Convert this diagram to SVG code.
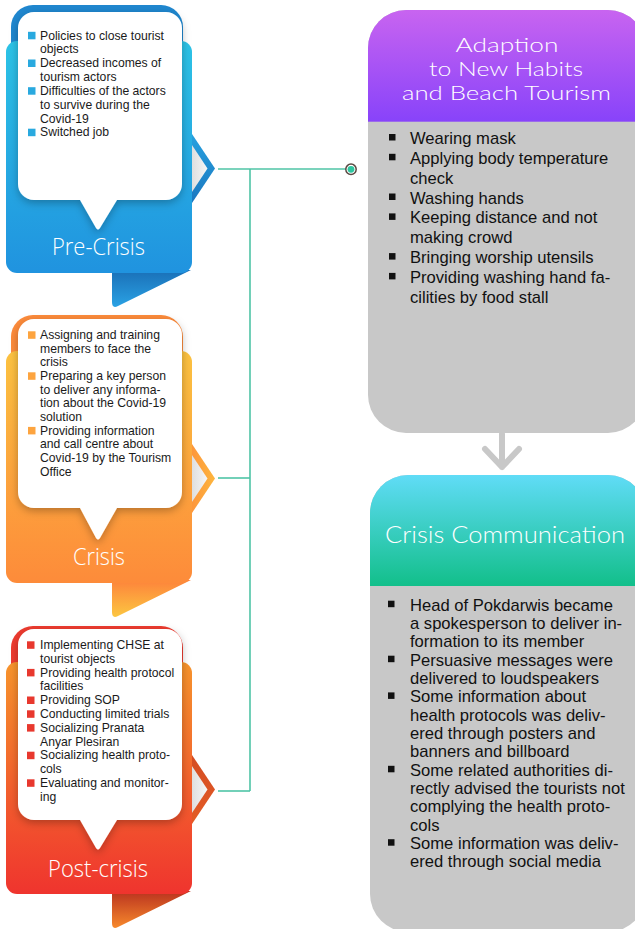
<svg xmlns="http://www.w3.org/2000/svg" width="635" height="929" viewBox="0 0 635 929">
  <defs>
    <style>
      .item { font-family: "Liberation Sans", Arial, sans-serif; font-size: 12.2px; fill: #1a1a1a; }
      .pt { font-family: "Liberation Sans", Arial, sans-serif; font-size: 16.6px; fill: #111; }
      .label { font-family: "Open Sans", "DejaVu Sans", sans-serif; font-weight: 300; font-size: 23px; fill: #ffffff; text-anchor: middle; }
      .title { font-family: Lato, "Open Sans", sans-serif; font-weight: 300; font-size: 19.8px; fill: #ffffff; text-anchor: middle; }
      .title-big { font-family: Lato, "Open Sans", sans-serif; font-weight: 300; font-size: 23px; fill: #ffffff; text-anchor: middle; }
      .link { fill: none; stroke: #4fc4a6; stroke-width: 1.6; }
      .gray-arrow { fill: none; stroke: #c8c8c8; stroke-width: 6; stroke-linecap: round; stroke-linejoin: round; }
    </style>
    <filter id="cardShadow" x="-20%" y="-20%" width="140%" height="150%">
      <feDropShadow dx="0" dy="3" stdDeviation="4" flood-color="#000" flood-opacity="0.28"/>
    </filter>
    <linearGradient id="chevInner" x1="0" y1="0" x2="1" y2="0">
      <stop offset="0" stop-color="#d6d6d6"/>
      <stop offset="1" stop-color="#f6f6f6"/>
    </linearGradient>
    <!-- blue card -->
    <linearGradient id="bBody" x1="0" y1="0" x2="0" y2="1">
      <stop offset="0" stop-color="#2cc3e6"/>
      <stop offset="1" stop-color="#2093df"/>
    </linearGradient>
    <linearGradient id="bTail" x1="0" y1="0" x2="0" y2="1">
      <stop offset="0" stop-color="#1a6fb7"/>
      <stop offset="1" stop-color="#2aa2e4"/>
    </linearGradient>
    <linearGradient id="bChev" x1="0" y1="0" x2="0" y2="1">
      <stop offset="0" stop-color="#28a6e3"/>
      <stop offset="1" stop-color="#1a72bb"/>
    </linearGradient>
    <!-- orange card -->
    <linearGradient id="oBody" x1="0" y1="0" x2="0" y2="1">
      <stop offset="0" stop-color="#fcc240"/>
      <stop offset="1" stop-color="#fd8b3a"/>
    </linearGradient>
    <linearGradient id="oTail" x1="0" y1="0" x2="0" y2="1">
      <stop offset="0" stop-color="#fd833b"/>
      <stop offset="1" stop-color="#fcc641"/>
    </linearGradient>
    <linearGradient id="oChev" x1="0" y1="0" x2="1" y2="0">
      <stop offset="0" stop-color="#fd8e3b"/>
      <stop offset="1" stop-color="#fdb63e"/>
    </linearGradient>
    <!-- red card -->
    <linearGradient id="rBody" x1="0" y1="0" x2="0" y2="1">
      <stop offset="0" stop-color="#f7942c"/>
      <stop offset="1" stop-color="#ef342e"/>
    </linearGradient>
    <linearGradient id="rTail" x1="0" y1="0" x2="0" y2="1">
      <stop offset="0" stop-color="#b9321f"/>
      <stop offset="1" stop-color="#f7892c"/>
    </linearGradient>
    <linearGradient id="rChev" x1="0" y1="0" x2="0" y2="1">
      <stop offset="0" stop-color="#d24a22"/>
      <stop offset="1" stop-color="#e55e26"/>
    </linearGradient>
    <!-- panel headers -->
    <linearGradient id="purpleHead" x1="0" y1="0" x2="0" y2="1">
      <stop offset="0" stop-color="#c864f0"/>
      <stop offset="1" stop-color="#8843fa"/>
    </linearGradient>
    <linearGradient id="tealHead" x1="0" y1="0" x2="0" y2="1">
      <stop offset="0" stop-color="#60dcf7"/>
      <stop offset="1" stop-color="#12bf8a"/>
    </linearGradient>
    <clipPath id="clipTop"><rect x="368" y="10" width="278" height="423" rx="38"/></clipPath>
    <clipPath id="clipBottom"><rect x="370" y="475" width="276" height="457" rx="38"/></clipPath>
  </defs>

  <rect width="635" height="929" fill="#ffffff"/>

  <!-- connectors -->
  <g id="connectors">
    <path class="link" d="M218,169 H347"/>
    <path class="link" d="M250,169 V791"/>
    <path class="link" d="M218,478 H250"/>
    <path class="link" d="M218,791 H250"/>
    <circle cx="351" cy="169.3" r="5.2" fill="#ffffff" stroke="#5a4a43" stroke-width="1.5"/>
    <circle cx="351" cy="169.3" r="3.4" fill="#2ec6a0"/>
    <path class="gray-arrow" d="M502,434 V467 M485,449 L502,467 L519,449"/>
  </g>

  <!-- Pre-Crisis card -->
  <g id="pre-crisis">
    <polygon points="186,125 215,168.5 186,212" fill="url(#bChev)"/>
    <polygon points="186,136 207.5,168.5 186,201" fill="url(#chevInner)"/>
    <path d="M112,270 H191 L118,306 Q112,309 112,302 Z" fill="url(#bTail)"/>
    <rect x="11" y="5" width="172" height="60" rx="22" fill="#1f87cf"/>
    <rect x="6" y="41" width="186" height="232" rx="11" fill="url(#bBody)"/>
    <path d="M34,12 H166 A16,16 0 0 1 182,28 V184 A16,16 0 0 1 166,200 H117 L100,228 Q98,231 96,228 L80,200 H34 A16,16 0 0 1 18,184 V28 A16,16 0 0 1 34,12 Z" fill="#ffffff" filter="url(#cardShadow)"/>
    <g fill="#29a9df">
      <rect x="28" y="31.8" width="7.5" height="7.5"/>
      <rect x="28" y="59.5" width="7.5" height="7.5"/>
      <rect x="28" y="87.2" width="7.5" height="7.5"/>
      <rect x="28" y="128.7" width="7.5" height="7.5"/>
    </g>
    <text class="item" x="40" y="39.5">Policies to close tourist</text>
    <text class="item" x="40" y="53.3">objects</text>
    <text class="item" x="40" y="67.2">Decreased incomes of</text>
    <text class="item" x="40" y="81">tourism actors</text>
    <text class="item" x="40" y="94.9">Difficulties of the actors</text>
    <text class="item" x="40" y="108.7">to survive during the</text>
    <text class="item" x="40" y="122.6">Covid-19</text>
    <text class="item" x="40" y="136.4">Switched job</text>
    <text class="label" x="98.5" y="255" textLength="93" lengthAdjust="spacingAndGlyphs">Pre-Crisis</text>
  </g>

  <!-- Crisis card -->
  <g id="crisis" transform="translate(0,310)">
    <polygon points="186,125 215,168.5 186,212" fill="url(#oChev)"/>
    <polygon points="186,136 207.5,168.5 186,201" fill="url(#chevInner)"/>
    <path d="M112,270 H191 L118,306 Q112,309 112,302 Z" fill="url(#oTail)"/>
    <rect x="11" y="5" width="172" height="60" rx="22" fill="#fd8b3b"/>
    <rect x="6" y="41" width="186" height="232" rx="11" fill="url(#oBody)"/>
    <path d="M34,9 H166 A16,16 0 0 1 182,25 V182 A16,16 0 0 1 166,198 H117 L100,228 Q98,231 96,228 L80,198 H34 A16,16 0 0 1 18,182 V25 A16,16 0 0 1 34,9 Z" fill="#ffffff" filter="url(#cardShadow)"/>
    <g fill="#fda43f">
      <rect x="28" y="21.3" width="7.5" height="7.5"/>
      <rect x="28" y="62.3" width="7.5" height="7.5"/>
      <rect x="28" y="116.9" width="7.5" height="7.5"/>
    </g>
    <text class="item" x="40" y="29">Assigning and training</text>
    <text class="item" x="40" y="42.7">members to face the</text>
    <text class="item" x="40" y="56.3">crisis</text>
    <text class="item" x="40" y="70">Preparing a key person</text>
    <text class="item" x="40" y="83.7">to deliver any informa-</text>
    <text class="item" x="40" y="97.4">tion about the Covid-19</text>
    <text class="item" x="40" y="111">solution</text>
    <text class="item" x="40" y="124.7">Providing information</text>
    <text class="item" x="40" y="138.4">and call centre about</text>
    <text class="item" x="40" y="152">Covid-19 by the Tourism</text>
    <text class="item" x="40" y="165.7">Office</text>
    <text class="label" x="99" y="255" textLength="52" lengthAdjust="spacingAndGlyphs">Crisis</text>
  </g>

  <!-- Post-crisis card -->
  <g id="post-crisis" transform="translate(0,621)">
    <polygon points="186,125 215,168.5 186,212" fill="url(#rChev)"/>
    <polygon points="186,136 207.5,168.5 186,201" fill="url(#chevInner)"/>
    <path d="M112,270 H191 L118,306 Q112,309 112,302 Z" fill="url(#rTail)"/>
    <rect x="11" y="5" width="172" height="60" rx="22" fill="#ee3b2f"/>
    <rect x="6" y="41" width="186" height="232" rx="11" fill="url(#rBody)"/>
    <path d="M34,8 H166 A16,16 0 0 1 182,24 V183 A16,16 0 0 1 166,199 H117 L100,227 Q98,230 96,227 L80,199 H34 A16,16 0 0 1 18,183 V24 A16,16 0 0 1 34,8 Z" fill="#ffffff" filter="url(#cardShadow)"/>
    <g fill="#e8382e">
      <rect x="27" y="20.3" width="7.5" height="7.5"/>
      <rect x="27" y="47.9" width="7.5" height="7.5"/>
      <rect x="27" y="75.5" width="7.5" height="7.5"/>
      <rect x="27" y="89.3" width="7.5" height="7.5"/>
      <rect x="27" y="103.1" width="7.5" height="7.5"/>
      <rect x="27" y="130.7" width="7.5" height="7.5"/>
      <rect x="27" y="158.3" width="7.5" height="7.5"/>
    </g>
    <text class="item" x="40" y="28">Implementing CHSE at</text>
    <text class="item" x="40" y="41.8">tourist objects</text>
    <text class="item" x="40" y="55.6">Providing health protocol</text>
    <text class="item" x="40" y="69.4">facilities</text>
    <text class="item" x="40" y="83.2">Providing SOP</text>
    <text class="item" x="40" y="97">Conducting limited trials</text>
    <text class="item" x="40" y="110.8">Socializing Pranata</text>
    <text class="item" x="40" y="124.6">Anyar Plesiran</text>
    <text class="item" x="40" y="138.4">Socializing health proto-</text>
    <text class="item" x="40" y="152.2">cols</text>
    <text class="item" x="40" y="166">Evaluating and monitor-</text>
    <text class="item" x="40" y="179.8">ing</text>
    <text class="label" x="98" y="256" textLength="100" lengthAdjust="spacingAndGlyphs">Post-crisis</text>
  </g>

  <!-- Adaption panel -->
  <g id="adaption">
    <g clip-path="url(#clipTop)">
      <rect x="368" y="10" width="278" height="423" fill="#c8c8c8"/>
      <rect x="368" y="10" width="278" height="111.7" fill="url(#purpleHead)"/>
    </g>
    <text class="title" x="507" y="51.7" textLength="103" lengthAdjust="spacingAndGlyphs">Adaption</text>
    <text class="title" x="506" y="75.7" textLength="154" lengthAdjust="spacingAndGlyphs">to New Habits</text>
    <text class="title" x="506.5" y="100" textLength="209" lengthAdjust="spacingAndGlyphs">and Beach Tourism</text>
    <g fill="#111">
      <rect x="389" y="134" width="6.5" height="6.5"/>
      <rect x="389" y="153.8" width="6.5" height="6.5"/>
      <rect x="389" y="193.5" width="6.5" height="6.5"/>
      <rect x="389" y="213.4" width="6.5" height="6.5"/>
      <rect x="389" y="253.1" width="6.5" height="6.5"/>
      <rect x="389" y="272.9" width="6.5" height="6.5"/>
    </g>
    <text class="pt" x="410" y="144">Wearing mask</text>
    <text class="pt" x="410" y="163.8">Applying body temperature</text>
    <text class="pt" x="410" y="183.7">check</text>
    <text class="pt" x="410" y="203.5">Washing hands</text>
    <text class="pt" x="410" y="223.4">Keeping distance and not</text>
    <text class="pt" x="410" y="243.2">making crowd</text>
    <text class="pt" x="410" y="263.1">Bringing worship utensils</text>
    <text class="pt" x="410" y="282.9">Providing washing hand fa-</text>
    <text class="pt" x="410" y="302.8">cilities by food stall</text>
  </g>

  <!-- Crisis Communication panel -->
  <g id="crisis-communication">
    <g clip-path="url(#clipBottom)">
      <rect x="370" y="475" width="276" height="457" fill="#c8c8c8"/>
      <rect x="370" y="475" width="276" height="111" fill="url(#tealHead)"/>
    </g>
    <text class="title-big" x="505" y="543.3" textLength="240" lengthAdjust="spacingAndGlyphs">Crisis Communication</text>
    <g fill="#111">
      <rect x="388" y="600.7" width="6.5" height="6.5"/>
      <rect x="388" y="655.7" width="6.5" height="6.5"/>
      <rect x="388" y="692.4" width="6.5" height="6.5"/>
      <rect x="388" y="765.8" width="6.5" height="6.5"/>
      <rect x="388" y="839.2" width="6.5" height="6.5"/>
    </g>
    <text class="pt" x="410" y="610.5">Head of Pokdarwis became</text>
    <text class="pt" x="410" y="628.8">a spokesperson to deliver in-</text>
    <text class="pt" x="410" y="647.2">formation to its member</text>
    <text class="pt" x="410" y="665.5">Persuasive messages were</text>
    <text class="pt" x="410" y="683.9">delivered to loudspeakers</text>
    <text class="pt" x="410" y="702.2">Some information about</text>
    <text class="pt" x="410" y="720.6">health protocols was deliv-</text>
    <text class="pt" x="410" y="738.9">ered through posters and</text>
    <text class="pt" x="410" y="757.3">banners and billboard</text>
    <text class="pt" x="410" y="775.6">Some related authorities di-</text>
    <text class="pt" x="410" y="794">rectly advised the tourists not</text>
    <text class="pt" x="410" y="812.3">complying the health proto-</text>
    <text class="pt" x="410" y="830.7">cols</text>
    <text class="pt" x="410" y="849">Some information was deliv-</text>
    <text class="pt" x="410" y="867.4">ered through social media</text>
  </g>
</svg>
